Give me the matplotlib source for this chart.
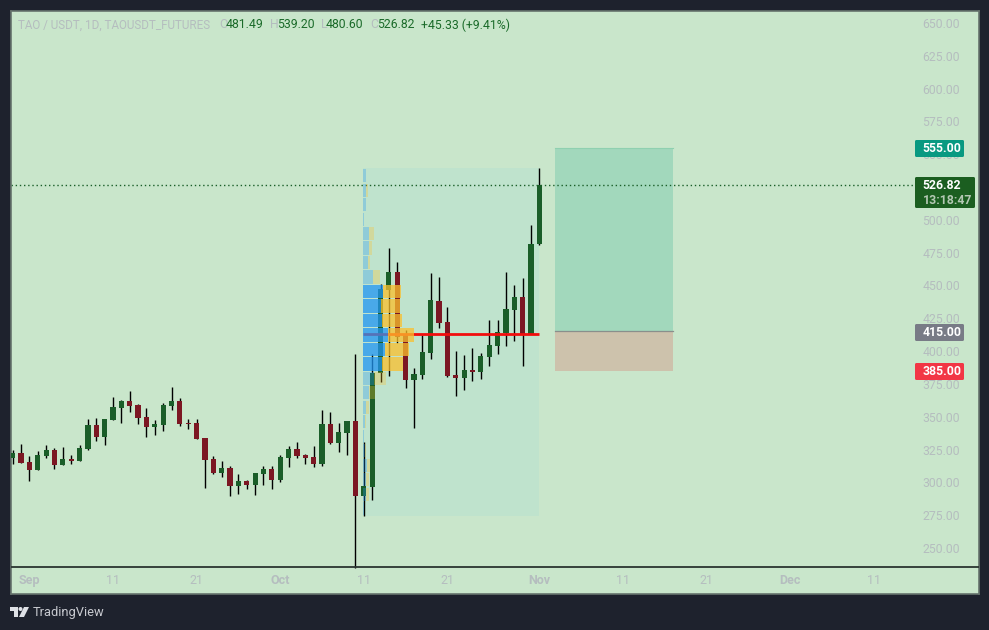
import matplotlib
matplotlib.use("Agg")
import matplotlib.pyplot as plt
from matplotlib.patches import Rectangle, Polygon, Circle, FancyBboxPatch
from matplotlib.transforms import Affine2D

# ---- data (days are counted from 1 Sep) ----
first_day = -2
opens = [318.6,322.4,315.5,309.4,320.1,324.7,313.2,317.8,316.3,325.4,343.7,334.6,347.5,356.7,362.0,359.0,349.8,342.2,343.7,358.2,362.0,345.2,345.2,333.8,317.8,307.1,310.9,297.2,301.0,298.0,306.4,310.2,301.8,318.6,325.4,320.9,319.3,314.0,344.5,330.0,337.6,346.8,
         289.6,296.5,383.3,446.6,460.3,412.3,378.0,381.8,398.6,438.2,422.2,381.8,379.5,385.6,384.1,395.5,403.9,413.8,431.3,441.2,413.0,481.49]
closes = [322.4,314.8,309.4,320.9,324.7,313.2,317.8,316.3,326.2,343.7,334.6,348.3,357.4,362.0,358.2,349.0,342.2,344.5,359.0,362.0,344.5,344.5,333.0,317.0,307.1,310.9,297.2,301.0,298.0,307.1,310.2,301.8,319.3,325.4,320.1,318.6,314.0,344.5,330.0,338.4,346.8,289.6,
          297.2,383.3,447.3,460.3,410.8,378.0,382.5,399.3,438.9,421.4,381.0,379.5,385.6,384.1,396.3,404.7,414.5,432.1,441.2,412.3,481.6,526.82]
highs = [324.7,329.2,320.1,323.9,328.5,326.2,326.9,320.9,328.5,348.3,349.0,348.3,365.0,362.8,369.6,359.7,356.7,347.5,360.5,372.7,364.3,348.3,348.3,333.8,320.1,316.3,312.5,306.4,301.8,307.1,312.5,312.5,320.9,327.7,330.8,321.6,327.7,355.1,353.6,345.2,346.8,397.8,
         330.8,397.8,451.1,478.6,467.9,416.1,387.1,412.3,459.5,456.5,433.6,400.1,397.0,402.4,398.6,423.7,423.7,460.3,450.4,455.7,496.1,539.2]
lows = [314.0,314.8,301.0,309.4,318.6,310.2,313.2,314.0,316.3,324.7,331.5,328.5,347.5,345.2,353.6,344.5,334.6,336.1,339.1,355.1,342.9,340.7,333.0,295.7,306.4,304.1,289.6,291.1,295.0,290.4,298.0,295.0,300.3,311.7,318.6,314.0,311.7,312.5,329.2,323.1,320.9,235.0,
        274.4,286.5,376.5,381.0,406.2,371.9,341.4,378.8,394.0,417.6,380.3,365.8,370.4,377.2,378.8,388.7,397.8,403.9,407.7,388.7,413.0,480.6]

profile_top = 539.2
profile_bottom = 274.4
# profile rows from the top, in day-widths along the time axis
profile_up = [0.28,0.36,0.28,0.12,0.72,0.72,0.60,1.20,2.40,2.16,2.28,3.00,2.64,2.28,1.32,0.72,0.36,0.24,0.12,0.24,0.48,0.36,0.36,0.12]
profile_down = [0.0,0.24,0.08,0.0,0.52,0.36,0.24,0.84,2.16,2.28,2.40,3.12,2.88,2.52,1.44,0.72,0.36,0.12,0.0,0.12,0.36,0.36,0.36,0.0]
value_area = [8,9,10,11,12,13]
poc_price = 412.8
range_start, range_end = 39.93, 61

entry_price, target_price, stop_price = 415.0, 555.0, 385.0
position_start, position_end = 62.9, 76.95
last_price = 526.82

# 525.00 sits entirely behind the last-price tag in the reference
price_ticks = [p for p in range(250, 651, 25) if p != 525]
date_ticks = [0, 10, 20, 30, 40, 50, 61, 71, 81, 91, 101]
date_labels = ["Sep", "11", "21", "Oct", "11", "21", "Nov", "11", "21", "Dec", "11"]

# ---- colours ----
DARK = "#1e222d"
PANE = "#c9e6cb"
UP = "#1a5e29"
DOWN = "#7c1723"
GREY = "#b5bdbf"
plt.rcParams["font.family"] = ["Roboto", "DejaVu Sans"]

W, H = 989, 630
fig = plt.figure(figsize=(W / 100, H / 100), dpi=100, facecolor=DARK)
L, R, T, B = 11, 979, 11, 594
ax = fig.add_axes([L / W, 1 - B / H, (R - L) / W, (B - T) / H], facecolor=PANE)

PXD = 8.36   # pixels per day
PXP = 1.3125 # pixels per price unit
X0 = 29.4    # pixel of day 0
ax.set_xlim((L - X0) / PXD, (R - X0) / PXD)
ax.set_ylim(650 - (B - 23) / PXP, 650 + (23 - T) / PXP)

for s in ax.spines.values():
    s.set_color("#66736d")
    s.set_linewidth(1.2)

ax.set_axisbelow(True)
ax.yaxis.tick_right()
ax.set_yticks(price_ticks)
ax.set_yticklabels([f"{p:.2f}" for p in price_ticks], ha="left", color=GREY, fontsize=8.8)
ax.tick_params(axis="y", length=0, pad=-40.8)
ax.set_xticks(date_ticks)
ax.set_xticklabels(date_labels, color=GREY, fontsize=9)
for lab, name in zip(ax.get_xticklabels(), date_labels):
    if not name.isdigit():
        lab.set_fontweight("bold")
ax.tick_params(axis="x", length=0, pad=-14.5)

# volume-profile range box and position tool
ax.add_patch(Rectangle((range_start, profile_bottom), range_end - range_start, profile_top - profile_bottom,
                       fc="#bfe3cd", ec="none", zorder=1))
ax.add_patch(Rectangle((position_start, entry_price), position_end - position_start, target_price - entry_price,
                       fc="#a2d8bc", ec="none", zorder=1))
ax.add_patch(Rectangle((position_start, stop_price), position_end - position_start, entry_price - stop_price,
                       fc="#cdc2ac", ec="none", zorder=1))
ax.plot([position_start, position_end], [entry_price, entry_price], color="#8a8f8c", lw=0.9, zorder=1.2)
ax.plot([position_start, position_end], [target_price, target_price], color="#8fd0b0", lw=0.8, zorder=1.2)

# candles
days = [first_day + i for i in range(len(opens))]
colors = [UP if c >= o else DOWN for o, c in zip(opens, closes)]
ax.vlines(days, lows, highs, color="black", lw=1.0, zorder=3)
ax.bar(days, [abs(c - o) for o, c in zip(opens, closes)], bottom=[min(o, c) for o, c in zip(opens, closes)],
       width=0.62, color=colors, zorder=3.2)

# point-of-control line, last-price line
ax.plot([range_start, range_end], [poc_price, poc_price], color="#f20d0d", lw=2, zorder=4, solid_capstyle="butt")
ax.plot([ax.get_xlim()[0], (914 - X0) / PXD], [last_price, last_price], color="#1a5e29", lw=1,
        ls=(0, (1, 2)), zorder=2)

# volume profile on top of the candles
n = len(profile_up)
step = (profile_top - profile_bottom) / n
for i in range(n):
    strong = i in value_area
    y = profile_top - (i + 1) * step + 0.5
    h = step - 1.0
    a = 0.75 if strong else 0.3
    ax.barh(y, profile_up[i], height=h, left=range_start, align="edge", color="#2196f3", alpha=a, zorder=5, lw=0)
    ax.barh(y, profile_down[i], height=h, left=range_start + profile_up[i], align="edge", color="#fbc02d", alpha=a, zorder=5, lw=0)

# x-axis separator
ax.axhline(650 - (567 - 23) / PXP, color="#2a3530", lw=1.3, zorder=6)

# pixel-space overlay
px = Affine2D().scale(1 / W, -1 / H).translate(0, 1) + fig.transFigure

def tag(x0, x1, y0, y1, color, lines):
    fig.add_artist(FancyBboxPatch((x0, y0), x1 - x0, y1 - y0, boxstyle="round,pad=0,rounding_size=1.5",
                                  transform=px, fc=color, ec="none", zorder=10))
    for text, ty, tc in lines:
        fig.text(922.5 / W, 1 - ty / H, text, color=tc, fontsize=8.8, fontweight="bold", va="center", ha="left", zorder=11)

tag(915, 964, 140, 157, "#089981", [("555.00", 148.5, "white")])
tag(915, 975, 177, 208, "#1b5e20", [("526.82", 185.5, "white"), ("13:18:47", 200, "#b4c8b4")])
tag(915, 964, 324, 341, "#787b86", [("415.00", 332.5, "white")])
tag(915, 964, 363, 380, "#f23645", [("385.00", 371.5, "white")])

# header
HG = "#1b6b2a"
for x, s, c, fs in [(18, "TAO / USDT, 1D, TAOUSDT_FUTURES", GREY, 8.4), (219, "O", GREY, 8.8), (226, "481.49", HG, 8.8),
                    (270, "H", GREY, 8.8), (277, "539.20", HG, 8.8), (321, "L", GREY, 8.8), (326, "480.60", HG, 8.8),
                    (370, "C", GREY, 8.8), (377, "526.82", HG, 8.8), (421, "+45.33 (+9.41%)", HG, 8.8)]:
    fig.text(x / W, 1 - 25 / H, s, color=c, fontsize=fs, va="center", ha="left", zorder=11)

# TradingView mark
LOGO = "#dfe1e6"
fig.add_artist(Polygon([(10, 607), (18, 607), (18, 617), (14, 617), (14, 611), (10, 611)], closed=True,
                       transform=px, fc=LOGO, ec="none", zorder=11))
fig.add_artist(Circle((20.5, 609), 2, transform=px, fc=LOGO, ec="none", zorder=11))
fig.add_artist(Polygon([(24, 607), (29, 607), (24, 617), (19, 617)], closed=True, transform=px, fc=LOGO, ec="none", zorder=11))
fig.text(33 / W, 1 - 612.5 / H, "TradingView", color="#c8cad0", fontsize=9.3, va="center", ha="left", zorder=11)

fig.savefig("out.png", dpi=100, facecolor=DARK)
